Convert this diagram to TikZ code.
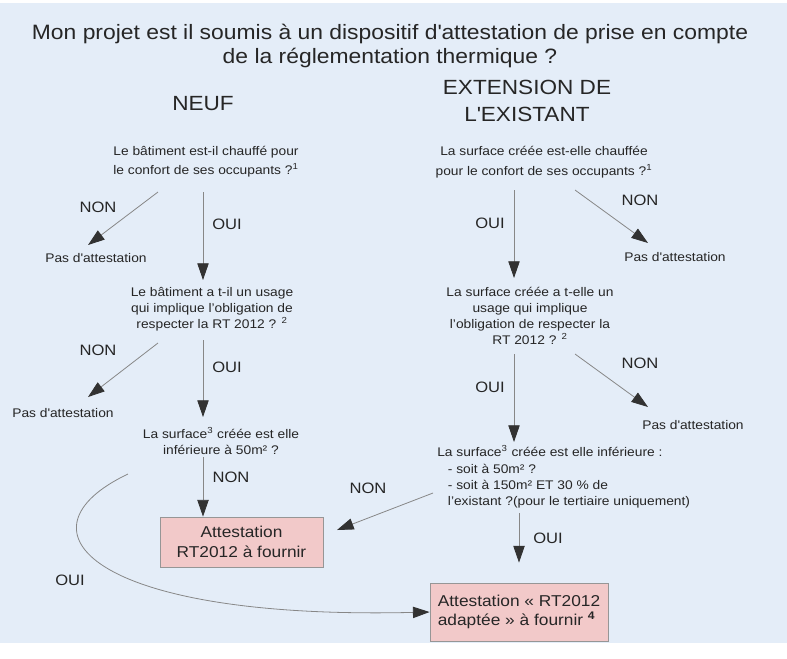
\documentclass[tikz,border=0pt]{standalone}
\usepackage{fontspec}
\setmainfont{Liberation Sans}[FakeStretch=1.1]
\usepackage{xcolor}
\usetikzlibrary{arrows.meta,calc,positioning}
\definecolor{bgblue}{RGB}{228,237,248}
\definecolor{txtgray}{RGB}{38,38,38}
\definecolor{linegray}{RGB}{135,135,135}
\definecolor{headgray}{RGB}{50,50,50}
\definecolor{boxpink}{RGB}{242,201,201}
\definecolor{boxline}{RGB}{150,150,150}

\begin{document}
\begin{tikzpicture}[x=0.75pt,y=-0.75pt,
    qtext/.style={align=center, inner sep=0pt, text=txtgray, font=\fontsize{9.4}{12.2}\selectfont},
    lbl/.style={inner sep=0pt, text=txtgray, font=\fontsize{11.3}{13}\selectfont},
    arr/.style={draw=linegray, line width=0.6pt, -{Triangle[length=12.5pt,width=8.5pt,color=headgray]}},
    result/.style={draw=boxline, fill=boxpink, line width=0.6pt, text=txtgray, inner sep=0pt,
        font=\fontsize{11.8}{14.5}\selectfont}]
    \useasboundingbox (0,0) rectangle (787,658);
    \fill[white] (0,0) rectangle (787,658);
    \fill[bgblue] (0,3) rectangle (787,643);

    % Title and the two columns
    \node[align=center, inner sep=0pt, text=txtgray, font=\fontsize{15.6}{17.6}\selectfont] (title) at (390,46)
        {Mon projet est il soumis à un dispositif d\textquotesingle attestation de prise en compte\\de la réglementation thermique ?};
    \node[inner sep=0pt, text=txtgray, font=\fontsize{15.4}{18}\selectfont] (neuf) at (203,104) {NEUF};
    \node[align=center, inner sep=0pt, text=txtgray, font=\fontsize{15.4}{20.2}\selectfont] (ext) at (527,101)
        {EXTENSION DE\\L\textquotesingle EXISTANT};

    % Questions, left column
    \node[qtext, font=\fontsize{9.4}{14.5}\selectfont] (q1L) at (206,162)
        {Le bâtiment est-il chauffé pour\\le confort de ses occupants ?\textsuperscript{1}};
    \node[qtext] (q2L) at (212,309)
        {Le bâtiment a t-il un usage\\qui implique l'obligation de\\respecter la RT 2012 ? \textsuperscript{2}};
    \node[qtext] (q3L) at (221,441)
        {La surface\textsuperscript{3} créée est elle\\inférieure à 50m² ?};

    % Questions, right column
    \node[qtext, font=\fontsize{9.4}{15}\selectfont] (q1R) at (544,162)
        {La surface créée est-elle chauffée\\pour le confort de ses occupants ?\textsuperscript{1}};
    \node[qtext] (q2R) at (530,316)
        {La surface créée a t-elle un\\usage qui implique\\l'obligation de respecter la\\RT 2012 ? \textsuperscript{2}};
    \node[qtext, align=left, anchor=west] (q3R) at (437,477)
        {La surface\textsuperscript{3} créée est elle inférieure :\\
         \hspace*{8pt}- soit à 50m² ?\\
         \hspace*{8pt}- soit à 150m² ET 30 \% de\\
         \hspace*{8pt}l'existant ?(pour le tertiaire uniquement)};

    % Dead ends
    \foreach \nm/\pos in {pasL1/{96,258}, pasL2/{63,413}, pasR1/{675,257}, pasR2/{693,425}}
        \node[qtext] (\nm) at (\pos) {Pas d\textquotesingle attestation};

    % Results
    \node[result, align=center, minimum width=122.25pt, minimum height=37.5pt] (box1) at (241.5,542)
        {Attestation\\RT2012 à fournir};
    \node[result, align=left, minimum width=133.5pt, minimum height=43.5pt] (box2) at (519,612)
        {Attestation « RT2012\\adaptée » à fournir \textsuperscript{\textbf{4}}};

    % Connectors, left column
    \draw[arr] ($(q1L)+(-48,30)$) -- ($(pasL1)+(-8,-13)$);
    \draw[arr] ($(q1L)+(-3,30)$) -- ($(q2L)+(-9,-29)$);
    \draw[arr] ($(q2L)+(-54,34)$) -- ($(pasL2)+(25,-16)$);
    \draw[arr] ($(q2L)+(-9,31)$) -- ($(q3L)+(-18,-24)$);
    \draw[arr] ($(q3L)+(-18,16)$) -- ($(box1.north)+(-38.5,0)$);
    \draw[arr] ($(q3L)+(-93,33)$) .. controls (10,530) and (90,620) .. (box2.west);

    % Connectors, right column
    \draw[arr] ($(q1R)+(-30,28)$) -- ($(q2R)+(-16,-38)$);
    \draw[arr] ($(q1R)+(31,28)$) -- ($(pasR1)+(-27,-14)$);
    \draw[arr] ($(q2R)+(-16,38)$) -- ($(q3R.west)+(77,-35)$);
    \draw[arr] ($(q2R)+(45,38)$) -- ($(pasR2)+(-45,-18)$);
    \draw[arr] ($(q3R.west)+(-4,16)$) -- ($(box1)+(95.5,-12)$);
    \draw[arr] ($(q3R.west)+(82,36)$) -- ($(box2.north)+(0,-20)$);

    % Answers
    \foreach \nm/\pos/\txt in {nonL1/{98,207}/NON, ouiL1/{227,224}/OUI, nonL2/{98,350}/NON,
        ouiL2/{227,367}/OUI, nonL3/{231,477}/NON, ouiL3/{70,580}/OUI,
        ouiR1/{490,223}/OUI, nonR1/{640,200}/NON, ouiR2/{490,387}/OUI,
        nonR2/{640,363}/NON, nonR3/{368,488}/NON, ouiR3/{548,538}/OUI}
        \node[lbl] (\nm) at (\pos) {\txt};

\end{tikzpicture}
\end{document}
